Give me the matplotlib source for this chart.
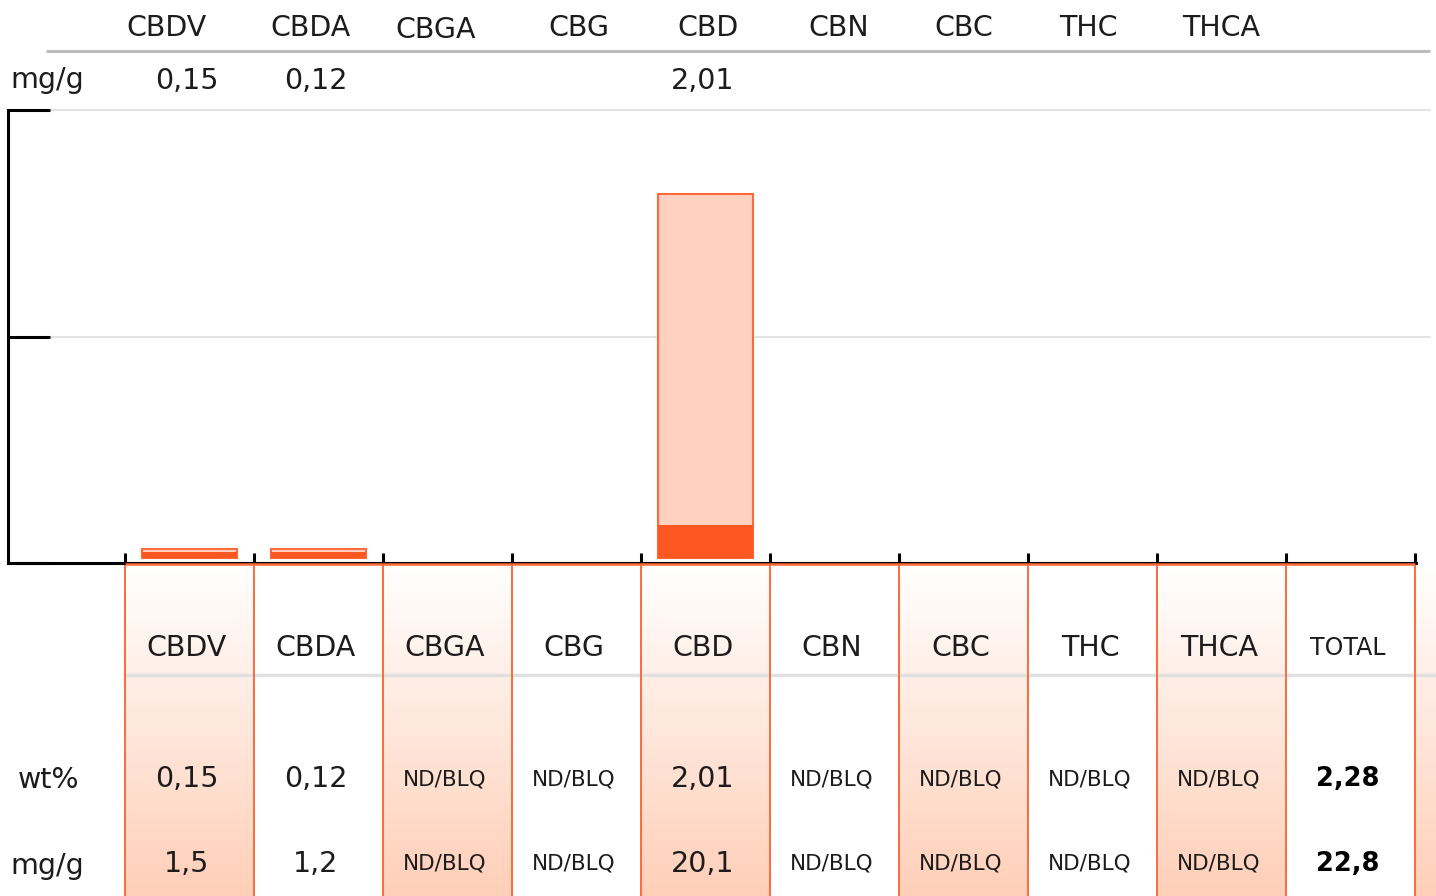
import numpy as np
import matplotlib.pyplot as plt
from matplotlib.colors import LinearSegmentedColormap
from matplotlib.transforms import blended_transform_factory

plt.rcParams['font.family'] = ['DejaVu Sans']

# Data
compounds = ['CBDV', 'CBDA', 'CBGA', 'CBG', 'CBD', 'CBN', 'CBC', 'THC', 'THCA']
table_cols = compounds + ['TOTAL']
top_mg = ['0,15', '0,12', '', '', '2,01', '', '', '', '']
wt_pct = ['0,15', '0,12', 'ND/BLQ', 'ND/BLQ', '2,01', 'ND/BLQ', 'ND/BLQ', 'ND/BLQ', 'ND/BLQ', '2,28']
mg_g = ['1,5', '1,2', 'ND/BLQ', 'ND/BLQ', '20,1', 'ND/BLQ', 'ND/BLQ', 'ND/BLQ', 'ND/BLQ', '22,8']
bar_light = [0.05, 0.05, 0, 0, 2.01, 0, 0, 0, 0]
bar_dark = [0.03, 0.03, 0, 0, 0.18, 0, 0, 0, 0]
y_ticks = [0, 1.25, 2.5]

# colours
orange = '#FF5722'
orange_edge = '#FF6A3A'
peach = '#FFD1C1'
ink = '#1c1c1c'

W, H = 1436, 896
fig = plt.figure(figsize=(W / 100, H / 100), dpi=100)


def box(l, t, r, b):
    return [l / W, 1 - b / H, (r - l) / W, (b - t) / H]


# column layout in pixels
col_w = 129
c0 = 189.5
xlim = ((8 - c0) / col_w, (1416 - c0) / col_w)
x = np.arange(len(compounds))

# --- table background ---
tb = fig.add_axes(box(8, 563, 1436, 896), zorder=0)
cmap = LinearSegmentedColormap.from_list('peach', ['#FFFFFF', '#FFCFB8'])
grad = np.linspace(0, 1, 256)[:, None]
for i in range(0, 11, 2):
    tb.imshow(grad, extent=(i - 0.5, i + 0.5, 0, 1), aspect='auto', cmap=cmap,
              origin='upper', zorder=0)
tb.set_xlim(xlim[0], (1436 - c0) / col_w)
tb.set_ylim(0, 1)
tb.axis('off')
tb.vlines(np.arange(-0.5, 10), 0, 1, color=orange_edge, lw=1.4, zorder=2)
tb.axhline((896 - 675) / 333, xmin=117 / 1428, xmax=1, color='#e0e0e0', lw=2.5, zorder=1)

# --- chart ---
ax = fig.add_axes(box(8, 110, 1416, 563), zorder=1)
ax.patch.set_visible(False)
for i in x:
    if bar_light[i] > 0:
        ax.bar(i, bar_light[i], width=0.73, bottom=0.028, color=peach,
               edgecolor=orange_edge, linewidth=1.5, zorder=2)
    if bar_dark[i] > 0:
        ax.bar(i, bar_dark[i], width=0.73, bottom=0.028, color=orange,
               linewidth=0, zorder=3)

for y in y_ticks[1:]:
    ax.axhline(y, xmin=42 / 1408, xmax=1422 / 1408, color='#e0e0e0', lw=1.3,
               clip_on=False, zorder=0.5)

ax.set_xlim(*xlim)
ax.set_ylim(0, 2.5)
ax.set_yticks(y_ticks)
ax.set_xticks(np.arange(-0.5, 9.6, 1))
ax.tick_params(axis='y', direction='in', length=30, width=2.2, labelleft=False)
ax.tick_params(axis='x', direction='in', length=7, width=2.2, labelbottom=False)
for s in ['top', 'right']:
    ax.spines[s].set_visible(False)
ax.spines['left'].set_linewidth(2.2)
ax.spines['bottom'].set_linewidth(2.2)
ax.hlines(-0.006, -0.5, 9.5, color=orange_edge, lw=1.8, clip_on=False, zorder=4)

# --- text overlay ---
bg = fig.add_axes([0, 0, 1, 1], zorder=2)
bg.set_xlim(0, W)
bg.set_ylim(H, 0)
bg.axis('off')
tr = blended_transform_factory(ax.transData, bg.transData)

fs = 20.5
# top header
top_dx = [-0.18, -0.06, -0.09, 0.02, 0.02, 0.03, 0, -0.03, 0]
bg.hlines(51, 46, 1430, color='#bdbdbd', lw=2.2)
for i, name in enumerate(compounds):
    bg.text(i + top_dx[i], 30 if name == 'CBGA' else 28, name, transform=tr,
            ha='center', va='center', fontsize=fs, color=ink)
    if top_mg[i]:
        bg.text(i - 0.02, 81, top_mg[i], transform=tr, ha='center', va='center',
                fontsize=fs, color=ink)
bg.text(10, 80, 'mg/g', ha='left', va='center', fontsize=fs, color=ink)

# bottom table
for i, name in enumerate(table_cols):
    total = name == 'TOTAL'
    bg.text(i - 0.02, 648, name, transform=tr, ha='center', va='center',
            fontsize=17 if total else fs, color=ink)
    for row, y in ((wt_pct, 779), (mg_g, 864)):
        v = row[i]
        bg.text(i - 0.02, y, v, transform=tr, ha='center', va='center',
                fontsize=15.5 if v == 'ND/BLQ' else (18.5 if total else fs),
                fontweight='bold' if total else 'normal',
                color='black' if total else ink)
bg.text(18, 780, 'wt%', ha='left', va='center', fontsize=fs, color=ink)
bg.text(10, 866, 'mg/g', ha='left', va='center', fontsize=fs, color=ink)

fig.savefig('out.png', dpi=100)
